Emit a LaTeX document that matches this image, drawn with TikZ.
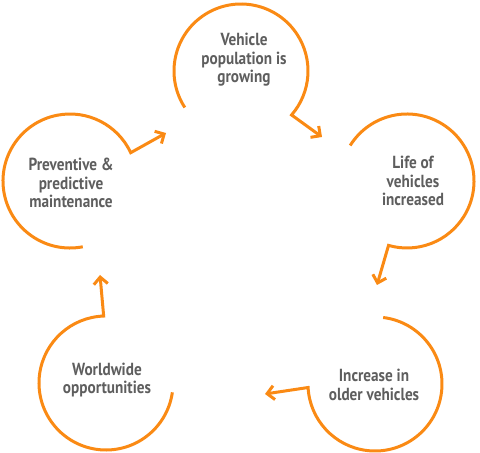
\documentclass[tikz,border=0pt]{standalone}
\usepackage{fontspec}
\setmainfont{PT Sans}[FakeStretch=0.87]
\usetikzlibrary{arrows.meta}
\definecolor{RingOrange}{HTML}{FA8A14}
\definecolor{TextGray}{HTML}{5E5E5E}

\begin{document}
\begin{tikzpicture}[x=1pt, y=1pt,
    ring/.style={
      draw=RingOrange,
      line width=3pt,
      -{Straight Barb[length=7pt, width=14pt]}
    },
    stagetext/.style={
      text=TextGray,
      font=\bfseries\fontsize{17.5}{18.5}\selectfont,
      align=center
    }
  ]
  \useasboundingbox (0,0) rectangle (480,453);
  % circle centres
  \coordinate (c1) at (241,382);
  \coordinate (c2) at (407,272);
  \coordinate (c3) at (375,69);
  \coordinate (c4) at (106,70);
  \coordinate (c5) at (70,272);
  % arrow tips
  \coordinate (tip1) at (322,316);
  \coordinate (tip2) at (377,168);
  \coordinate (tip3) at (265,59);
  \coordinate (tip4) at (100,178);
  \coordinate (tip5) at (166,320);
  % stages
  \node[stagetext] (growing) at (244,393) {Vehicle\\population is\\growing};
  \node[stagetext] (life) at (413,272) {Life of\\vehicles\\increased};
  \node[stagetext] (older) at (374,68) {Increase in\\older vehicles};
  \node[stagetext] (world) at (107,73) {Worldwide\\opportunities};
  \node[stagetext] (maint) at (71,270) {Preventive \&\\predictive\\maintenance};
  % rings with arrows
  \draw[ring] (c1) ++(213:67) arc[start angle=213, end angle=-41, radius=67] -- (tip1);
  \draw[ring] (c2) ++(148:67) arc[start angle=148, end angle=-106, radius=67] -- (tip2);
  \draw[ring] (c3) ++(83:67) arc[start angle=83, end angle=-177, radius=67] -- (tip3);
  \draw[ring] (c4) ++(-8:67) arc[start angle=-8, end angle=-268, radius=67] -- (tip4);
  \draw[ring] (c5) ++(-79:67) arc[start angle=-79, end angle=-335, radius=67] -- (tip5);
\end{tikzpicture}
\end{document}
